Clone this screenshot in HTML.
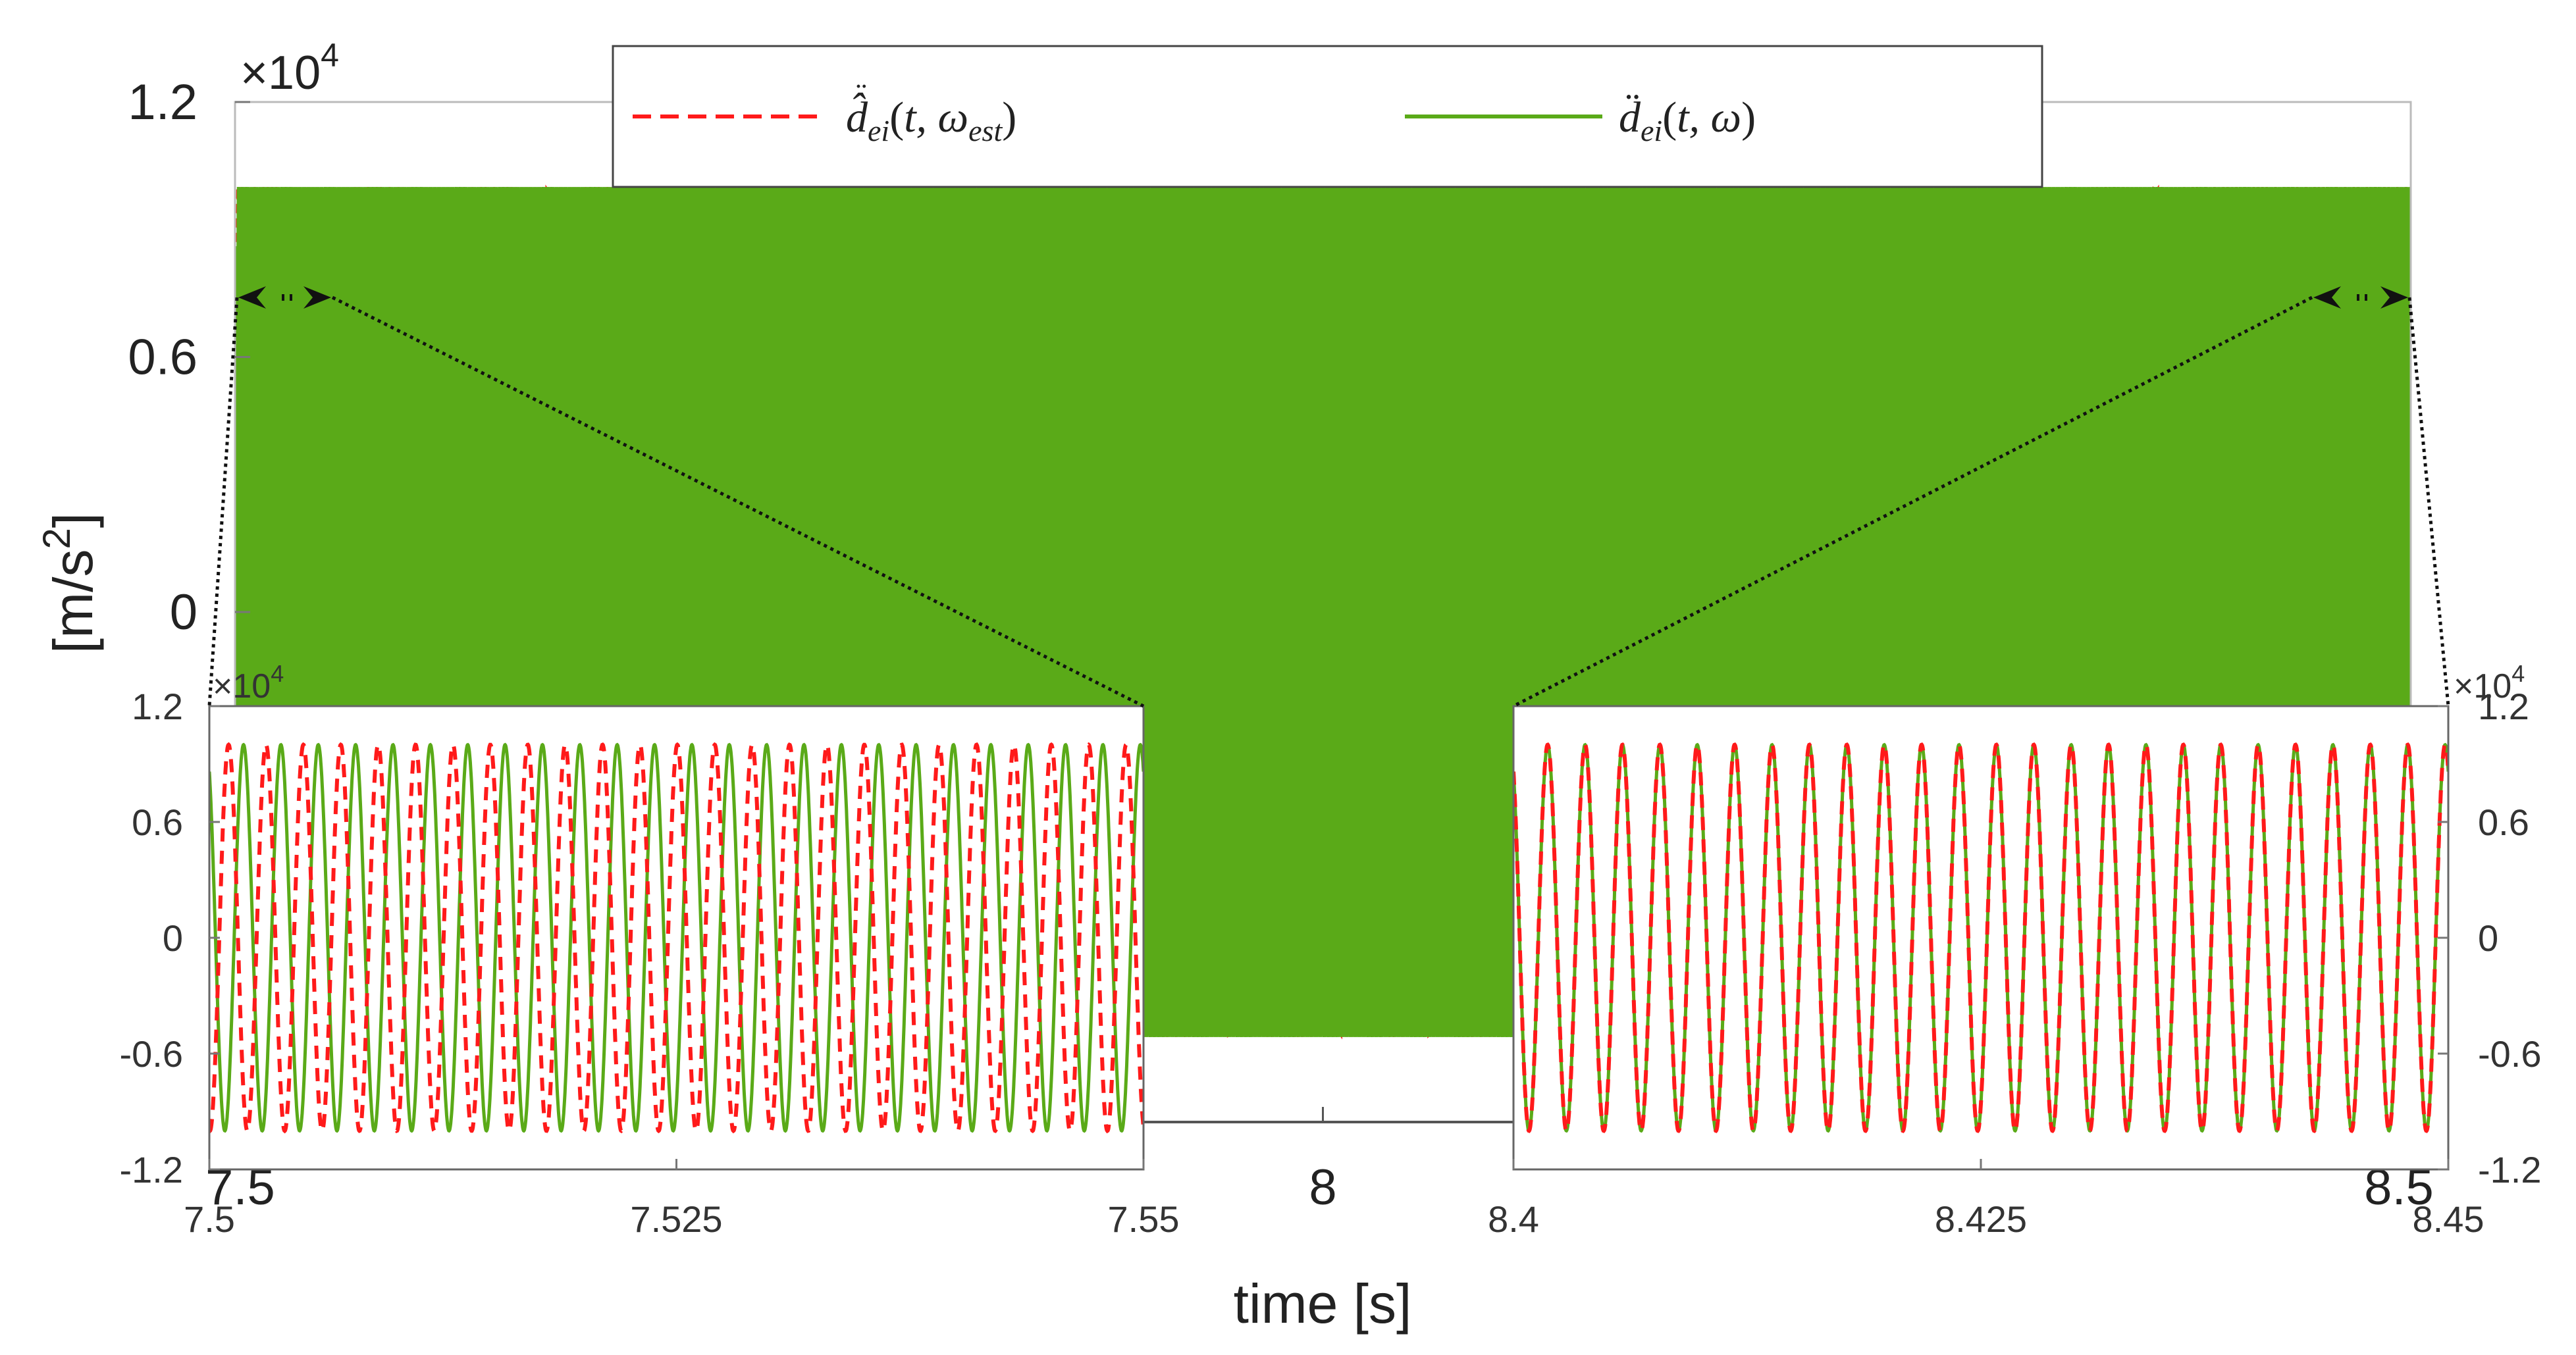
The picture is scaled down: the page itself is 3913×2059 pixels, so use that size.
<!DOCTYPE html>
<html><head><meta charset="utf-8"><style>
html,body{margin:0;padding:0;background:#fff;}
svg{display:block;font-family:"Liberation Sans",sans-serif;}
</style></head><body>
<svg id="chart" width="3913" height="2059" viewBox="0 0 3913 2059" xmlns="http://www.w3.org/2000/svg">
<defs>
<clipPath id="clipMain"><rect x="357" y="155" width="3305" height="1550"/></clipPath>
<clipPath id="clipIn1"><rect x="318" y="1073" width="1419" height="704"/></clipPath>
<clipPath id="clipIn2"><rect x="2299" y="1073" width="1420" height="704"/></clipPath>
</defs>
<g id="main"></g>
<g id="legend"></g>
<g id="inset1"></g>
<g id="inset2"></g>
<g id="zooms"></g>
</svg>
<script>
// ---- data ----
const mainYTicks = [-1.2, -0.6, 0, 0.6, 1.2];
const mainYTickLabels = ["-1.2", "-0.6", "0", "0.6", "1.2"];
const mainXTicks = [7.5, 8, 8.5];
const mainXTickLabels = ["7.5", "8", "8.5"];
const insetYTicks = [-1.2, -0.6, 0, 0.6, 1.2];
const insetYTickLabels = ["-1.2", "-0.6", "0", "0.6", "1.2"];
const inset1XTicks = [7.5, 7.525, 7.55];
const inset1XTickLabels = ["7.5", "7.525", "7.55"];
const inset2XTicks = [8.4, 8.425, 8.45];
const inset2XTickLabels = ["8.4", "8.425", "8.45"];
const seriesAmplitude = [1.0, 1.0];        // [estimated, true] (x10^4)
const seriesFrequency = [500, 500];        // Hz
const truePeakTime = [7.50183];            // a peak of true signal
const estLagKnotsT = [7.5, 8.0, 8.4, 8.5]; // time knots
const estLagCycles = [0.4, 0.2, 0.0, 0.0]; // est phase lead (cycles)
const mainRange = [7.5, 8.5];
const inset1Range = [7.5, 7.55];
const inset2Range = [8.4, 8.45];

const NS = "http://www.w3.org/2000/svg";
function mk(tag, attrs, parent){const e=document.createElementNS(NS,tag);for(const k in attrs)e.setAttribute(k,attrs[k]);if(parent)parent.appendChild(e);return e;}
function lagAt(t){for(let i=0;i<estLagKnotsT.length-1;i++){if(t<=estLagKnotsT[i+1]){const f=(t-estLagKnotsT[i])/(estLagKnotsT[i+1]-estLagKnotsT[i]);return estLagCycles[i]+f*(estLagCycles[i+1]-estLagCycles[i]);}}return estLagCycles[estLagCycles.length-1];}
function trueVal(t){return seriesAmplitude[1]*Math.cos(2*Math.PI*seriesFrequency[1]*(t-truePeakTime[0]));}
function estVal(t){return seriesAmplitude[0]*Math.cos(2*Math.PI*(seriesFrequency[0]*(t-truePeakTime[0])+lagAt(t)));}
function axis(x0,x1,y0,y1,t0,t1,v0,v1){return {x:t=>x0+(t-t0)/(t1-t0)*(x1-x0), y:v=>y1-(v-v0)/(v1-v0)*(y1-y0)};}
function pathFor(fn,ax,t0,t1,n){let d="";for(let i=0;i<=n;i++){const t=t0+(t1-t0)*i/n;d+=(i?"L":"M")+ax.x(t).toFixed(1)+","+ax.y(fn(t)).toFixed(1);}return d;}

// ---- main axes ----
const gM=document.getElementById('main');
const M=axis(357,3662,155,1705,mainRange[0],mainRange[1],-1.2,1.2);
let bg=mk('rect',{x:357,y:155,width:3305,height:1550,fill:'#fff'},gM);


const gClip=mk('g',{'clip-path':'url(#clipMain)'},gM);
let pe=mk('path',{d:pathFor(estVal,M,7.5,8.5,24000),fill:'none',stroke:'#ff1a1a','stroke-width':3,'stroke-dasharray':'14,8'},gClip);


let pt=mk('path',{d:pathFor(trueVal,M,7.5,8.5,24000),fill:'none',stroke:'#5aaa18','stroke-width':6.5},gClip);


mk('rect',{x:357,y:155,width:3305,height:1550,fill:'none',stroke:'#bbb','stroke-width':3},gM);
mk('line',{x1:357,y1:1705,x2:3662,y2:1705,stroke:'#555','stroke-width':4},gM);
mainYTicks.forEach((v,i)=>{
  mk('line',{x1:357,y1:M.y(v),x2:380,y2:M.y(v),stroke:'#777','stroke-width':3},gM);
  if(v>=0){const t=mk('text',{x:300,y:M.y(v)+26,'font-size':76,'text-anchor':'end',fill:'#222'},gM);t.textContent=mainYTickLabels[i];
  
  }
});
mainXTicks.forEach((v,i)=>{
  mk('line',{x1:M.x(v),y1:1705,x2:M.x(v),y2:1682,stroke:'#555','stroke-width':3},gM);
  const t=mk('text',{x:M.x(v)+(i==2?-18:(i==0?8:0)),y:1830,'font-size':76,'text-anchor':'middle',fill:'#222'},gM);t.textContent=mainXTickLabels[i];
  
  
});
let ex=mk('text',{x:365,y:135,'font-size':72,fill:'#222'},gM);ex.innerHTML='×10<tspan font-size="50" dy="-34">4</tspan>';


let yt=mk('text',{x:0,y:0,'font-size':84,'text-anchor':'middle',fill:'#222',transform:'translate(140,886) rotate(-90)'},gM);yt.innerHTML='[m/s<tspan font-size="58" dy="-34">2</tspan><tspan dy="34">]</tspan>';


let xt=mk('text',{x:2009,y:2010,'font-size':84,'text-anchor':'middle',fill:'#222'},gM);xt.textContent='time [s]';



// ---- legend ----
const gL=document.getElementById('legend');
mk('rect',{x:931,y:70,width:2171,height:214,fill:'#fff',stroke:'#444','stroke-width':3},gL);
let l1=mk('line',{x1:961,y1:177,x2:1248,y2:177,stroke:'#ff1a1a','stroke-width':6,'stroke-dasharray':'28,14'},gL);


let dots1=mk('text',{x:1300,y:160,'font-size':50,'font-family':'Liberation Serif, serif',fill:'#222'},gL);dots1.textContent='¨';


let lt1=mk('text',{x:1285,y:200,'font-size':66,'font-family':'Liberation Serif, serif','font-style':'italic',fill:'#222'},gL);
lt1.innerHTML='d\u0302<tspan font-size="46" dy="14">ei</tspan><tspan dy="-14" font-style="normal">(</tspan>t, ω<tspan font-size="46" dy="14">est</tspan><tspan dy="-14" font-style="normal">)</tspan>';


let l2=mk('line',{x1:2134,y1:177,x2:2434,y2:177,stroke:'#5aaa18','stroke-width':6},gL);


let lt2=mk('text',{x:2459,y:200,'font-size':66,'font-family':'Liberation Serif, serif','font-style':'italic',fill:'#222'},gL);
lt2.innerHTML='d\u0308<tspan font-size="46" dy="14">ei</tspan><tspan dy="-14" font-style="normal">(</tspan>t, ω<tspan font-style="normal">)</tspan>';



// ---- insets ----
function inset(gid,x0,x1,range,xt,xtl,clip,right){
  const g=document.getElementById(gid);
  const A=axis(x0,x1,1073,1777,range[0],range[1],-1.2,1.2);
  mk('rect',{x:x0,y:1073,width:x1-x0,height:704,fill:'#fff'},g);
  const gc=mk('g',{'clip-path':'url(#'+clip+')'},g);
  let a=mk('path',{d:pathFor(trueVal,A,range[0],range[1],3000),fill:'none',stroke:'#5aaa18','stroke-width':5},gc);
  
  
  let b=mk('path',{d:pathFor(estVal,A,range[0],range[1],3000),fill:'none',stroke:'#ff1a1a','stroke-width':6,'stroke-dasharray':'20,14'},gc);
  
  
  mk('rect',{x:x0,y:1073,width:x1-x0,height:704,fill:'none',stroke:'#666','stroke-width':3},g);
  insetYTicks.forEach((v,i)=>{
    const tx=right?x1:x0;
    mk('line',{x1:tx,y1:A.y(v),x2:tx+(right?-16:16),y2:A.y(v),stroke:'#777','stroke-width':3},g);
    const t=mk('text',{x:right?x1+45:x0-40,y:A.y(v)+20,'font-size':56,'text-anchor':right?'start':'end',fill:'#333'},g);t.textContent=insetYTickLabels[i];
    
    
  });
  xt.forEach((v,i)=>{
    mk('line',{x1:A.x(v),y1:1777,x2:A.x(v),y2:1761,stroke:'#777','stroke-width':3},g);
    const t=mk('text',{x:A.x(v),y:1872,'font-size':56,'text-anchor':'middle',fill:'#333'},g);t.textContent=xtl[i];
    
    
  });
  const e=mk('text',{x:right?x1+8:x0+5,y:1060,'font-size':52,fill:'#333'},g);e.innerHTML='×10<tspan font-size="36" dy="-24">4</tspan>';
  
  
}
inset('inset1',318,1737,inset1Range,inset1XTicks,inset1XTickLabels,'clipIn1',false);
inset('inset2',2299,3719,inset2Range,inset2XTicks,inset2XTickLabels,'clipIn2',true);

// ---- zoom connectors ----
const gZ=document.getElementById('zooms');
[[360,318],[505,1737],[3512,2299],[3660,3719]].forEach(p=>{
  mk('line',{x1:p[0],y1:452,x2:p[1],y2:1073,stroke:'#111','stroke-width':5,'stroke-dasharray':'5,6'},gZ);
});
function chev(x,dir){mk('path',{d:`M${x},452 L${x+dir*42},435 L${x+dir*28},452 L${x+dir*42},469 Z`,fill:'#111'},gZ);}
chev(362,1);chev(503,-1);chev(3514,1);chev(3658,-1);
[[428,452],[440,452],[3580,452],[3592,452]].forEach(p=>mk('rect',{x:p[0],y:p[1]-5,width:4,height:10,fill:'#111'},gZ));
</script>
</body></html>
